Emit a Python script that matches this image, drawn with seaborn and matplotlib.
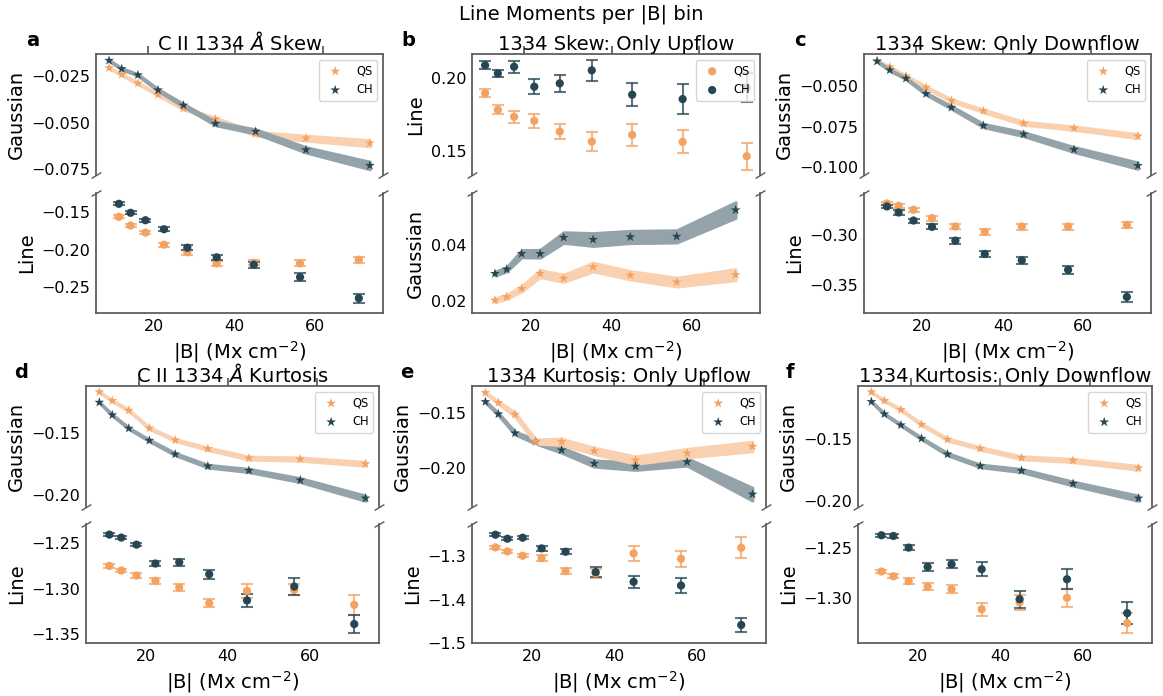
import numpy as np
import pandas as pd
import matplotlib
matplotlib.use('Agg')
import matplotlib.pyplot as plt
from matplotlib.colors import to_rgb
import seaborn as sns

sns.set_theme(style='white', context='notebook')
plt.rcParams['font.family'] = ['DejaVu Sans']
plt.rcParams['text.color'] = 'black'
plt.rcParams['axes.labelcolor'] = 'black'
plt.rcParams['xtick.color'] = 'black'
plt.rcParams['ytick.color'] = 'black'
plt.rcParams['axes.edgecolor'] = '0.35'

qs_color = '#f4a261'
ch_color = '#264653'

# |B| bin centres (Mx cm^-2)
b_bins = [11.2, 14.1, 17.8, 22.4, 28.2, 35.5, 44.7, 56.2, 70.8]

# (a) C II 1334 skew
a_gauss_qs = [-0.0205, -0.0241, -0.0288, -0.0349, -0.0423, -0.0480, -0.0559, -0.0583, -0.0610]
a_gauss_qs_err = [0.0004, 0.0004, 0.0005, 0.0005, 0.0006, 0.0008, 0.0010, 0.0014, 0.0017]
a_gauss_ch = [-0.0165, -0.0210, -0.0243, -0.0324, -0.0406, -0.0504, -0.0547, -0.0646, -0.0730]
a_gauss_ch_err = [0.0004, 0.0004, 0.0005, 0.0006, 0.0008, 0.0010, 0.0012, 0.0015, 0.0021]
a_line_qs = [-0.1558, -0.1674, -0.1768, -0.1929, -0.2031, -0.2179, -0.2170, -0.2179, -0.2129]
a_line_qs_err = [0.002, 0.002, 0.0025, 0.0025, 0.003, 0.003, 0.0035, 0.004, 0.004]
a_line_ch = [-0.1384, -0.1504, -0.1603, -0.1723, -0.1969, -0.2098, -0.2196, -0.2362, -0.2643]
a_line_ch_err = [0.002, 0.002, 0.002, 0.0025, 0.003, 0.0035, 0.004, 0.005, 0.006]

# (b) skew, upflow only
b_line_qs = [0.1896, 0.1781, 0.1733, 0.1705, 0.1631, 0.1562, 0.1608, 0.1560, 0.1461]
b_line_qs_err = [0.0028, 0.0032, 0.004, 0.0048, 0.0054, 0.0066, 0.0078, 0.008, 0.0092]
b_line_ch = [0.2088, 0.2032, 0.2078, 0.1940, 0.1963, 0.2053, 0.1885, 0.1855, 0.1934]
b_line_ch_err = [0.0028, 0.0023, 0.004, 0.005, 0.006, 0.0072, 0.008, 0.0104, 0.010]
b_gauss_qs = [0.0204, 0.0216, 0.0245, 0.0298, 0.0281, 0.0321, 0.0292, 0.0268, 0.0294]
b_gauss_qs_err = [0.0007, 0.0008, 0.0010, 0.0013, 0.0013, 0.0016, 0.0015, 0.0016, 0.0020]
b_gauss_ch = [0.0298, 0.0313, 0.0368, 0.0368, 0.0425, 0.0418, 0.0427, 0.0429, 0.0522]
b_gauss_ch_err = [0.0007, 0.0008, 0.0013, 0.0014, 0.0019, 0.0023, 0.0022, 0.0022, 0.0028]

# (c) skew, downflow only
c_gauss_qs = [-0.0348, -0.0385, -0.0441, -0.0510, -0.0590, -0.0654, -0.0730, -0.0760, -0.0809]
c_gauss_qs_err = [0.0004, 0.0004, 0.0005, 0.0006, 0.0007, 0.0009, 0.0010, 0.0011, 0.0013]
c_gauss_ch = [-0.0350, -0.0404, -0.0455, -0.0549, -0.0633, -0.0744, -0.0797, -0.0891, -0.0990]
c_gauss_ch_err = [0.0004, 0.0005, 0.0006, 0.0007, 0.0009, 0.0011, 0.0013, 0.0016, 0.0020]
c_line_qs = [-0.2687, -0.2710, -0.2750, -0.2833, -0.2917, -0.2970, -0.2917, -0.2917, -0.2900]
c_line_qs_err = [0.0015, 0.002, 0.002, 0.0025, 0.0025, 0.003, 0.003, 0.003, 0.003]
c_line_ch = [-0.2717, -0.2777, -0.2857, -0.2920, -0.3057, -0.3190, -0.3253, -0.3347, -0.3617]
c_line_ch_err = [0.0015, 0.002, 0.002, 0.0025, 0.003, 0.003, 0.0035, 0.004, 0.005]

# (d) C II 1334 kurtosis
d_gauss_qs = [-0.1165, -0.1235, -0.1314, -0.1457, -0.1554, -0.1624, -0.1700, -0.1708, -0.1746]
d_gauss_qs_err = [0.0005, 0.0006, 0.0007, 0.0008, 0.0009, 0.0011, 0.0013, 0.0014, 0.0017]
d_gauss_ch = [-0.1249, -0.1351, -0.1459, -0.1557, -0.1668, -0.1765, -0.1800, -0.1878, -0.2024]
d_gauss_ch_err = [0.0005, 0.0006, 0.0007, 0.0008, 0.0010, 0.0012, 0.0014, 0.0017, 0.0022]
d_line_qs = [-1.2750, -1.2801, -1.2857, -1.2915, -1.2989, -1.3162, -1.3026, -1.3015, -1.3180]
d_line_qs_err = [0.002, 0.002, 0.0025, 0.003, 0.0035, 0.0045, 0.0075, 0.006, 0.011]
d_line_ch = [-1.2404, -1.2437, -1.2515, -1.2724, -1.2710, -1.2842, -1.3132, -1.2978, -1.3393]
d_line_ch_err = [0.0015, 0.002, 0.002, 0.003, 0.004, 0.005, 0.0075, 0.0095, 0.010]

# (e) kurtosis, upflow only
e_gauss_qs = [-0.1310, -0.1402, -0.1509, -0.1758, -0.1761, -0.1844, -0.1929, -0.1865, -0.1804]
e_gauss_qs_err = [0.0008, 0.0012, 0.0020, 0.0020, 0.0030, 0.0030, 0.0035, 0.0040, 0.0045]
e_gauss_ch = [-0.1393, -0.1506, -0.1681, -0.1758, -0.1837, -0.1960, -0.1985, -0.1945, -0.2242]
e_gauss_ch_err = [0.0008, 0.0012, 0.0015, 0.0020, 0.0025, 0.0030, 0.0035, 0.0035, 0.0060]
e_line_qs = [-1.2800, -1.2892, -1.2992, -1.3046, -1.3346, -1.3400, -1.2938, -1.3062, -1.2808]
e_line_qs_err = [0.003, 0.004, 0.004, 0.006, 0.007, 0.010, 0.018, 0.018, 0.024]
e_line_ch = [-1.2508, -1.2600, -1.2577, -1.2823, -1.2900, -1.3369, -1.3592, -1.3677, -1.4585]
e_line_ch_err = [0.003, 0.004, 0.004, 0.005, 0.006, 0.012, 0.014, 0.017, 0.016]

# (f) kurtosis, downflow only
f_gauss_qs = [-0.1114, -0.1185, -0.1258, -0.1378, -0.1500, -0.1573, -0.1649, -0.1671, -0.1731]
f_gauss_qs_err = [0.0005, 0.0006, 0.0007, 0.0008, 0.0009, 0.0011, 0.0013, 0.0014, 0.0017]
f_gauss_ch = [-0.1193, -0.1293, -0.1383, -0.1492, -0.1620, -0.1715, -0.1753, -0.1859, -0.1978]
f_gauss_ch_err = [0.0005, 0.0006, 0.0007, 0.0008, 0.0010, 0.0012, 0.0014, 0.0017, 0.0022]
f_line_qs = [-1.2738, -1.2785, -1.2834, -1.2887, -1.2914, -1.3113, -1.3046, -1.3000, -1.3252]
f_line_qs_err = [0.0015, 0.002, 0.003, 0.003, 0.004, 0.0066, 0.0078, 0.009, 0.010]
f_line_ch = [-1.2377, -1.2384, -1.2500, -1.2692, -1.2666, -1.2715, -1.3013, -1.2815, -1.3152]
f_line_ch_err = [0.0015, 0.002, 0.0025, 0.004, 0.004, 0.007, 0.0086, 0.0099, 0.011]

xlabel = '|B| (Mx cm$^{-2}$)'


def light(c):
    # half-transparent look, but flat so the band edge does not show
    return tuple(0.5 * np.array(to_rgb(c)) + 0.5)


def draw_band(ax, series, legend):
    # gaussian fit moments: shaded band + star markers
    for name, y, e, c in series:
        df = pd.DataFrame({'B': b_bins, 'val': y, 'err': e})
        ax.fill_between(df['B'], df['val'] - df['err'], df['val'] + df['err'],
                        facecolor=light(c), edgecolor=light(c), lw=2)
        sns.scatterplot(data=df, x='B', y='val', marker='*', s=55, color=c,
                        edgecolor='none', label=name if legend else None, ax=ax, zorder=3)


def draw_points(ax, series, legend):
    # line moments: dots with error bars
    for name, y, e, c in series:
        df = pd.DataFrame({'B': b_bins, 'val': y, 'err': e})
        ax.errorbar(df['B'], df['val'], yerr=df['err'], fmt='none', ecolor=c,
                    elinewidth=1.5, capsize=4, capthick=1.5, alpha=0.75)
        sns.scatterplot(data=df, x='B', y='val', marker='o', s=35, color=c,
                        edgecolor='none', label=name if legend else None, ax=ax, zorder=3)


def break_marks(ax, yy):
    ax.plot([0, 1], [yy, yy], transform=ax.transAxes, marker=[(-1, -0.6), (1, 0.6)],
            markersize=7, linestyle='none', color='0.35', mec='0.35', mew=1, clip_on=False)


panels = [
    dict(letter='a', title='C II 1334 $\\AA$ Skew', top='gauss',
         top_data=[('QS', a_gauss_qs, a_gauss_qs_err, qs_color), ('CH', a_gauss_ch, a_gauss_ch_err, ch_color)],
         bot_data=[('QS', a_line_qs, a_line_qs_err, qs_color), ('CH', a_line_ch, a_line_ch_err, ch_color)],
         top_ylim=(-0.0781, -0.0130), top_ticks=[-0.075, -0.050, -0.025],
         bot_ylim=(-0.284, -0.124), bot_ticks=[-0.25, -0.20, -0.15],
         x=0.0825, w=0.2468, row=0),
    dict(letter='b', title='1334 Skew: Only Upflow', top='line',
         top_data=[('QS', b_line_qs, b_line_qs_err, qs_color), ('CH', b_line_ch, b_line_ch_err, ch_color)],
         bot_data=[('QS', b_gauss_qs, b_gauss_qs_err, qs_color), ('CH', b_gauss_ch, b_gauss_ch_err, ch_color)],
         top_ylim=(0.1332, 0.2166), top_ticks=[0.15, 0.20],
         bot_ylim=(0.0159, 0.0582), bot_ticks=[0.02, 0.04],
         x=0.4058, w=0.2476, row=0),
    dict(letter='c', title='1334 Skew: Only Downflow', top='gauss',
         top_data=[('QS', c_gauss_qs, c_gauss_qs_err, qs_color), ('CH', c_gauss_ch, c_gauss_ch_err, ch_color)],
         bot_data=[('QS', c_line_qs, c_line_qs_err, qs_color), ('CH', c_line_ch, c_line_ch_err, ch_color)],
         top_ylim=(-0.1047, -0.0305), top_ticks=[-0.100, -0.075, -0.050],
         bot_ylim=(-0.3777, -0.2583), bot_ticks=[-0.35, -0.30],
         x=0.7429, w=0.2468, row=0),
    dict(letter='d', title='C II 1334 $\\AA$ Kurtosis', top='gauss',
         top_data=[('QS', d_gauss_qs, d_gauss_qs_err, qs_color), ('CH', d_gauss_ch, d_gauss_ch_err, ch_color)],
         bot_data=[('QS', d_line_qs, d_line_qs_err, qs_color), ('CH', d_line_ch, d_line_ch_err, ch_color)],
         top_ylim=(-0.2095, -0.1116), top_ticks=[-0.20, -0.15],
         bot_ylim=(-1.3603, -1.2287), bot_ticks=[-1.35, -1.30, -1.25],
         x=0.0739, w=0.2519, row=1),
    dict(letter='e', title='1334 Kurtosis: Only Upflow', top='gauss',
         top_data=[('CH', e_gauss_ch, e_gauss_ch_err, ch_color), ('QS', e_gauss_qs, e_gauss_qs_err, qs_color)],
         bot_data=[('QS', e_line_qs, e_line_qs_err, qs_color), ('CH', e_line_ch, e_line_ch_err, ch_color)],
         top_ylim=(-0.2359, -0.1248), top_ticks=[-0.20, -0.15],
         bot_ylim=(-1.5, -1.2262), bot_ticks=[-1.5, -1.4, -1.3],
         x=0.4058, w=0.2528, row=1),
    dict(letter='f', title='1334 Kurtosis: Only Downflow', top='gauss',
         top_data=[('QS', f_gauss_qs, f_gauss_qs_err, qs_color), ('CH', f_gauss_ch, f_gauss_ch_err, ch_color)],
         bot_data=[('QS', f_line_qs, f_line_qs_err, qs_color), ('CH', f_line_ch, f_line_ch_err, ch_color)],
         top_ylim=(-0.2049, -0.1065), top_ticks=[-0.20, -0.15],
         bot_ylim=(-1.345, -1.2265), bot_ticks=[-1.30, -1.25],
         x=0.7377, w=0.2528, row=1),
]

# (top axes bottom, height, bottom axes bottom, height) per row
rows = [(0.7486, 0.1739, 0.5503, 0.1724), (0.2716, 0.1739, 0.0761, 0.1710)]

fig = plt.figure(figsize=(11.63, 6.96), dpi=100)

for p in panels:
    tb, th, bb, bh = rows[p['row']]
    ax_t = fig.add_axes([p['x'], tb, p['w'], th])
    ax_b = fig.add_axes([p['x'], bb, p['w'], bh])

    if p['top'] == 'gauss':
        draw_band(ax_t, p['top_data'], True)
        draw_points(ax_b, p['bot_data'], False)
        ax_t.set_ylabel('Gaussian', fontsize=14)
        ax_b.set_ylabel('Line', fontsize=14)
    else:
        draw_points(ax_t, p['top_data'], True)
        draw_band(ax_b, p['bot_data'], False)
        ax_t.set_ylabel('Line', fontsize=14)
        ax_b.set_ylabel('Gaussian', fontsize=14)

    ax_t.set_xlim(8.2, 73.8)
    ax_b.set_xlim(5.5, 76.8)
    ax_t.set_ylim(*p['top_ylim'])
    ax_b.set_ylim(*p['bot_ylim'])
    ax_t.set_yticks(p['top_ticks'])
    ax_b.set_yticks(p['bot_ticks'])
    ax_t.set_xticks([20, 40, 60])
    ax_b.set_xticks([20, 40, 60])

    ax_t.spines['bottom'].set_visible(False)
    ax_b.spines['top'].set_visible(False)
    ax_t.xaxis.tick_top()
    ax_t.tick_params(axis='x', top=True, labeltop=False, length=6, width=1.25, color='0.35')
    ax_b.tick_params(axis='x', bottom=False, length=0, pad=4, labelsize=11.5)
    for ax in (ax_t, ax_b):
        ax.tick_params(axis='y', left=False, length=0, pad=4, labelsize=11.5)

    ax_t.set_xlabel('')
    ax_b.set_xlabel(xlabel, fontsize=14)

    leg = ax_b.get_legend()
    if leg is not None:
        leg.remove()
    # keep QS listed first in the legend
    handles, labels = ax_t.get_legend_handles_labels()
    order = [labels.index('QS'), labels.index('CH')]
    ax_t.legend([handles[i] for i in order], ['QS', 'CH'],
                loc='upper right', fontsize=8.3, frameon=True)

    break_marks(ax_t, 0)
    break_marks(ax_b, 1)

    ax_t.set_title(p['title'], fontsize=14, y=1.0, pad=3)
    ax_t.text(-0.245, 1.03, p['letter'], transform=ax_t.transAxes, fontsize=14,
              fontweight='bold', ha='left', va='bottom')

fig.suptitle('Line Moments per |B| bin', fontsize=14, y=0.98, va='center')

fig.savefig('out.png', dpi=100)
